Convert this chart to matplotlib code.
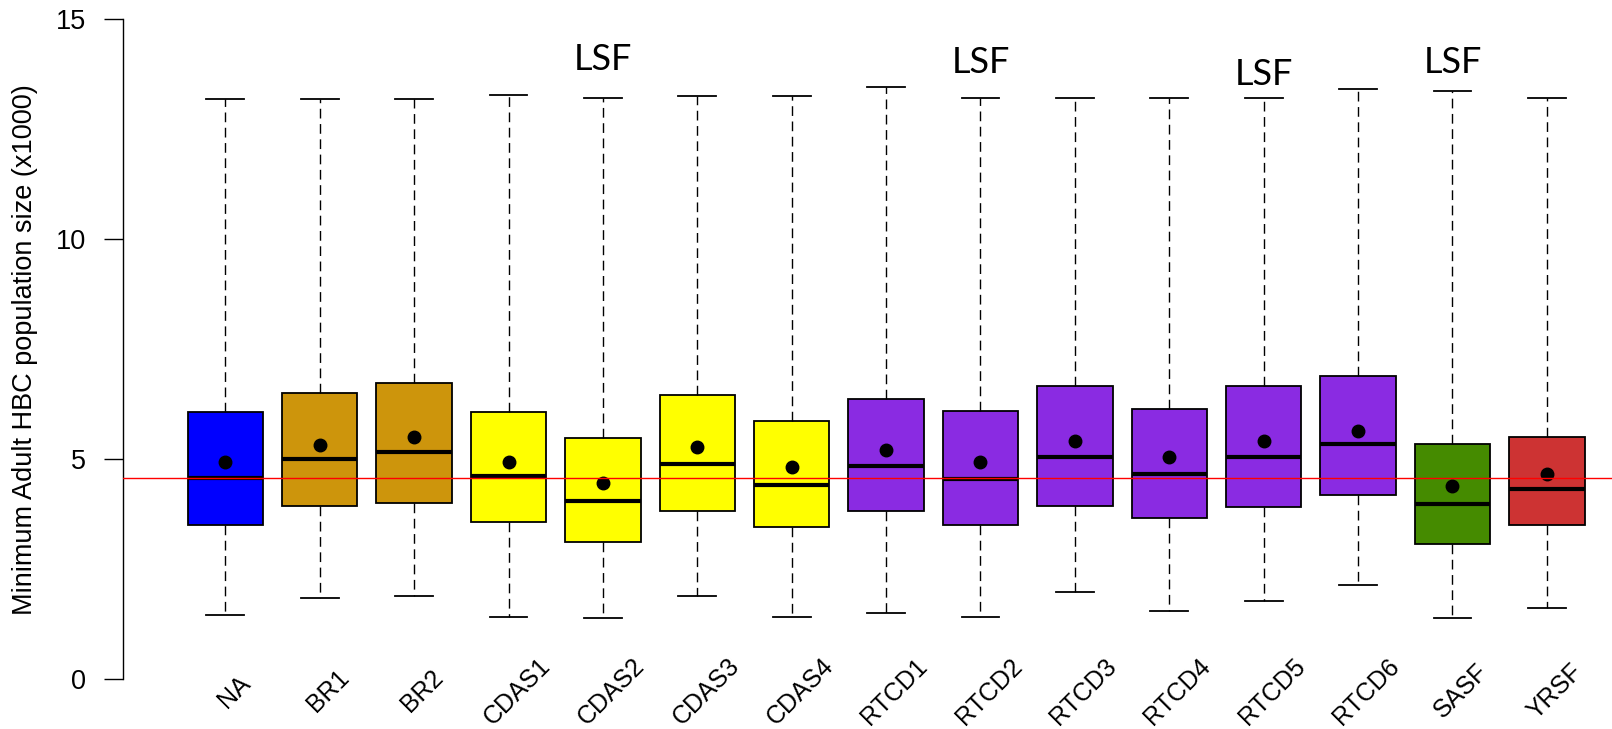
import matplotlib
matplotlib.use("Agg")
import matplotlib.pyplot as plt

# values (x1000 adults)
sites = ["NA", "BR1", "BR2", "CDAS1", "CDAS2", "CDAS3", "CDAS4",
         "RTCD1", "RTCD2", "RTCD3", "RTCD4", "RTCD5", "RTCD6", "SASF", "YRSF"]
whisker_low = [1.47, 1.86, 1.90, 1.43, 1.39, 1.90, 1.43, 1.50, 1.43, 1.98, 1.55, 1.78, 2.14, 1.39, 1.63]
q1 = [3.51, 3.95, 4.02, 3.59, 3.12, 3.83, 3.47, 3.83, 3.52, 3.95, 3.66, 3.91, 4.19, 3.09, 3.52]
medians = [4.58, 5.01, 5.17, 4.63, 4.06, 4.89, 4.42, 4.85, 4.56, 5.05, 4.66, 5.05, 5.36, 3.99, 4.34]
q3 = [6.07, 6.50, 6.74, 6.07, 5.48, 6.47, 5.88, 6.38, 6.10, 6.66, 6.15, 6.66, 6.90, 5.36, 5.52]
whisker_high = [13.19, 13.19, 13.19, 13.29, 13.22, 13.26, 13.26, 13.47, 13.22, 13.22, 13.22, 13.22, 13.42, 13.37, 13.22]
means = [4.94, 5.34, 5.50, 4.94, 4.47, 5.29, 4.83, 5.22, 4.94, 5.41, 5.06, 5.41, 5.65, 4.40, 4.67]

colors = ["#0000FF", "#CD950C", "#CD950C", "#FFFF00", "#FFFF00", "#FFFF00", "#FFFF00",
          "#8A2BE2", "#8A2BE2", "#8A2BE2", "#8A2BE2", "#8A2BE2", "#8A2BE2", "#458B00", "#CD3333"]

lsf_sites = ["CDAS2", "RTCD2", "RTCD5", "SASF"]
lsf_y = [13.86, 13.78, 13.52, 13.78]

y_ticks = [0, 5, 10, 15]

plt.rcParams['font.family'] = ['Liberation Sans', 'DejaVu Sans']

fig = plt.figure(figsize=(16.12, 7.29), dpi=100)
ax = fig.add_axes([123 / 1612, (729 - 705.9) / 729, 1 - 123 / 1612, 705.9 / 729])

positions = list(range(1, len(sites) + 1))
stats = []
for i, s in enumerate(sites):
    stats.append({"label": s, "whislo": whisker_low[i], "q1": q1[i], "med": medians[i],
                  "q3": q3[i], "whishi": whisker_high[i], "mean": means[i], "fliers": []})

bp = ax.bxp(stats, positions=positions, widths=0.8, capwidths=0.4, patch_artist=True,
            showmeans=True,
            meanprops=dict(marker='o', markerfacecolor='black', markeredgecolor='black', markersize=9),
            medianprops=dict(color='black', linewidth=3, solid_capstyle='butt'),
            whiskerprops=dict(color='black', linestyle=(0, (7, 4)), linewidth=1),
            capprops=dict(color='black', linewidth=1.3),
            boxprops=dict(edgecolor='black', linewidth=1.3))
for patch, c in zip(bp['boxes'], colors):
    patch.set_facecolor(c)

# reference line at NA median
ax.axhline(medians[0], color='red', linewidth=1, zorder=10)

for s, y in zip(lsf_sites, lsf_y):
    ax.text(positions[sites.index(s)], y, "LSF", family=['Lato', 'DejaVu Sans'],
            fontsize=26, ha='center', va='baseline')

for p, s in zip(positions, sites):
    ax.text(p + 0.09, -0.27, s, rotation=45, rotation_mode='anchor', ha='center', va='center',
            fontsize=18, clip_on=False)

ax.set_xlim(-0.084, 15.69)
ax.set_ylim(-0.6, 15.443)
ax.set_xticks([])
ax.set_yticks(y_ticks)
ax.set_yticklabels([str(t) for t in y_ticks], fontsize=19.5)
ax.tick_params(axis='y', length=13.5, width=1, pad=13)
for side in ['top', 'right', 'bottom']:
    ax.spines[side].set_visible(False)
ax.spines['left'].set_bounds(0, 15)
ax.spines['left'].set_linewidth(1)
ax.patch.set_visible(False)

fig.text(25 / 1612, 1 - 350 / 729, "Minimum Adult HBC population size (x1000)",
         rotation=90, ha='center', va='center', fontsize=19.5)

fig.savefig('out.png', dpi=100)
